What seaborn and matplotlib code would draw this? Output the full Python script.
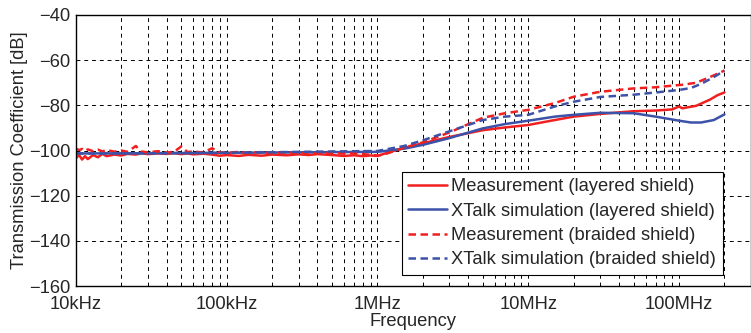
import numpy as np
import pandas as pd
import matplotlib
matplotlib.use("Agg")
import matplotlib.pyplot as plt
from matplotlib.ticker import FixedLocator, LogLocator, NullFormatter
import seaborn as sns

# measured curves (dense sampling, noisy at low frequency)
freq_meas = [1.0e4, 1.05e4, 1.1e4, 1.15e4, 1.2e4, 1.3e4, 1.4e4, 1.5e4, 1.6e4, 1.8e4,
             2.0e4, 2.2e4, 2.5e4, 2.7e4, 3.0e4, 3.5e4, 4.0e4, 4.5e4, 5.0e4, 5.5e4,
             6.0e4, 7.0e4, 8.0e4, 9.0e4, 1.0e5, 1.2e5, 1.4e5, 1.7e5, 2.0e5, 2.5e5,
             3.0e5, 3.5e5, 4.0e5, 5.0e5, 6.0e5, 7.0e5, 8.0e5, 9.0e5, 1.0e6, 1.1e6,
             1.3e6, 1.5e6, 2.0e6, 3.0e6, 5.0e6, 7.0e6, 1.0e7, 1.5e7, 2.0e7, 3.0e7,
             5.0e7, 7.0e7, 9.0e7, 1.0e8, 1.05e8, 1.3e8, 1.6e8, 1.8e8, 2.0e8]
meas_layered = [-103.5, -102.0, -104.0, -102.5, -103.8, -102.0, -103.0, -101.5, -102.5, -101.8,
                -102.2, -101.5, -101.8, -101.2, -101.6, -101.3, -101.5, -101.2, -101.6, -101.3,
                -101.7, -101.4, -101.8, -102.3, -102.0, -102.4, -101.9, -102.3, -101.8, -102.1,
                -101.7, -102.0, -101.6, -102.0, -102.4, -102.1, -102.5, -102.2, -102.4, -101.5,
                -100.0, -98.8, -96.8, -94.0, -91.0, -89.8, -88.7, -86.5, -85.0, -83.8,
                -82.6, -82.3, -81.8, -80.5, -81.3, -80.2, -77.5, -75.5, -74.3]
meas_braided = [-99.2, -99.8, -99.3, -100.2, -99.5, -100.3, -99.6, -100.4, -99.8, -100.5,
                -100.0, -100.6, -98.0, -100.4, -100.8, -100.3, -100.9, -100.5, -98.2, -100.7,
                -100.4, -100.9, -99.0, -100.8, -101.0, -100.6, -101.0, -100.7, -101.1, -100.8,
                -101.2, -100.9, -101.3, -101.0, -101.4, -101.2, -101.6, -101.9, -102.2, -101.8,
                -100.2, -98.8, -96.4, -92.0, -85.5, -83.5, -82.0, -79.0, -76.2, -74.0,
                -72.5, -72.0, -71.3, -71.0, -70.9, -70.0, -67.5, -66.0, -64.6]

# simulated curves
freq_sim = [1e4, 3e4, 1e5, 3e5, 1e6, 1.5e6, 2e6, 3e6, 5e6, 7e6, 1e7, 1.5e7, 2e7, 3e7,
            5e7, 7e7, 1e8, 1.2e8, 1.4e8, 1.7e8, 2e8]
sim_layered = [-101.3, -101.2, -101.0, -100.8, -100.6, -99.2, -97.5, -94.5, -90.2, -88.3,
               -86.8, -85.0, -84.2, -83.3, -83.5, -85.0, -86.8, -87.6, -87.6, -86.5, -84.0]
sim_braided = [-101.3, -101.2, -101.0, -100.6, -100.2, -98.0, -95.5, -91.5, -86.5, -85.0,
               -84.2, -80.5, -78.4, -76.3, -75.3, -74.3, -73.2, -72.3, -70.5, -67.5, -64.6]

xticks = [1e4, 1e5, 1e6, 1e7, 1e8]
xtick_labels = ["10kHz", "100kHz", "1MHz", "10MHz", "100MHz"]
yticks = [-160, -140, -120, -100, -80, -60, -40]

sns.set_style("white")
plt.rcParams['font.family'] = ['Liberation Sans', 'DejaVu Sans']

fig = plt.figure(figsize=(7.51, 3.33), dpi=100)
ax = fig.add_axes([0.101, 0.141, 0.899, 0.814])

red = "#f02020"
blue = "#3c52a8"
dash = (3.0, 1.8)

sns.lineplot(x=freq_meas, y=meas_layered, ax=ax, color=red, lw=1.8,
             label="Measurement (layered shield)")
sns.lineplot(x=freq_sim, y=sim_layered, ax=ax, color=blue, lw=1.8,
             label="XTalk simulation (layered shield)")
sns.lineplot(x=freq_meas, y=meas_braided, ax=ax, color=red, lw=1.8,
             label="Measurement (braided shield)")
sns.lineplot(x=freq_sim, y=sim_braided, ax=ax, color=blue, lw=1.8,
             label="XTalk simulation (braided shield)")
for ln in ax.lines[2:4]:
    ln.set_dashes(dash)

ax.set_xscale("log")
ax.set_xlim(1e4, 3e8)
ax.set_ylim(-160, -40)
ax.xaxis.set_major_locator(FixedLocator(xticks))
ax.set_xticklabels(xtick_labels)
ax.xaxis.set_minor_locator(LogLocator(base=10, subs=np.arange(2, 10)))
ax.xaxis.set_minor_formatter(NullFormatter())
ax.set_yticks(yticks)
ax.tick_params(axis="x", labelsize=13.2, length=0, pad=7.5)
ax.tick_params(axis="y", labelsize=13.2, length=0, pad=4)

ax.grid(True, which="major", color="black", linestyle=(0, (4, 4)), lw=0.7)
ax.grid(True, which="minor", axis="x", color="black", linestyle=(0, (4, 4)), lw=0.7)
ax.set_axisbelow(True)
for s in ax.spines.values():
    s.set_color("black")
    s.set_linewidth(1.0)

ax.set_xlabel("Frequency", fontsize=13.2, labelpad=0)
ax.set_ylabel("Transmission Coefficient [dB]", fontsize=13.2, labelpad=1)

leg = ax.legend(loc="upper left", bbox_to_anchor=(0.483, 0.421), fontsize=13.2,
                frameon=True, fancybox=False, edgecolor="black", framealpha=1,
                handlelength=2.1, borderpad=0.35, labelspacing=0.4, handletextpad=0.25,
                borderaxespad=0)
leg.get_frame().set_linewidth(0.8)

fig.savefig("out.png", dpi=100)
